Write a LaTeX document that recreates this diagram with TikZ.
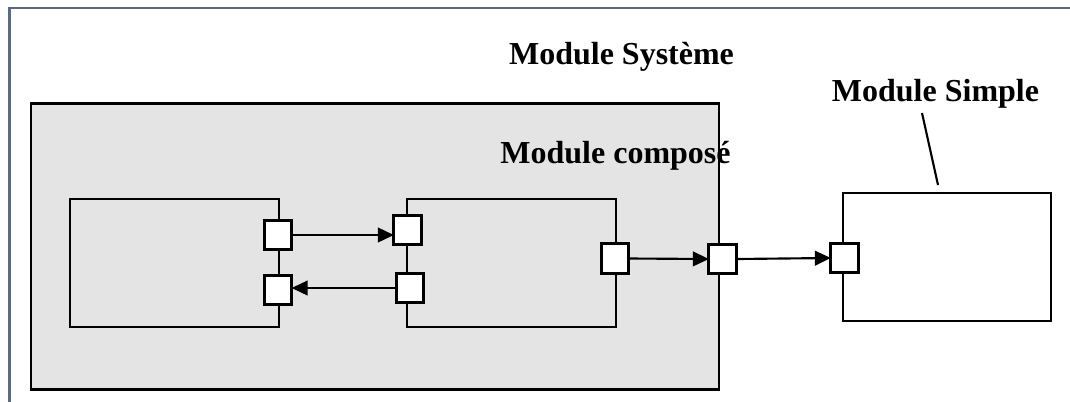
\documentclass[tikz,border=0pt]{standalone}
\usepackage{fontspec}
\setmainfont{Liberation Serif}
\usetikzlibrary{arrows.meta}
\definecolor{framecol}{HTML}{5A6985}
\definecolor{compfill}{HTML}{E4E4E4}
\tikzset{
  px/.style={x=0.75pt,y=-0.75pt},
  frameline/.style={draw=framecol,line width=2.2pt},
  module/.style={draw=black,line width=2.1pt,inner sep=0pt,outer sep=0pt},
  port/.style={draw=black,fill=white,line width=2.1pt,inner sep=0pt,outer sep=0pt,
    minimum width=20.5pt,minimum height=22pt},
  link/.style={line width=1.6pt,-{Triangle[length=12pt,width=11pt]}},
  title/.style={font=\fontsize{24}{28}\selectfont\bfseries,inner sep=0pt,anchor=base},
}
\begin{document}
\begin{tikzpicture}[px]
\useasboundingbox (0,0) rectangle (1070,401);
% page frame
\draw[frameline] (9.5,402) -- (9.5,8) -- (1071,8);

% composite module and its inner modules
\node[module,fill=compfill,minimum width=516pt,minimum height=214pt] (comp) at (375,246.5) {};
\node[module,minimum width=156.75pt,minimum height=96pt] (ma) at (174.5,263) {};
\node[module,minimum width=156.75pt,minimum height=96pt] (mb) at (511.5,263) {};
% simple module
\node[module,fill=white,minimum width=156pt,minimum height=96pt] (ms) at (947,257) {};

% ports
\node[port] (pa1) at (278,235) {};
\node[port] (pa2) at (278,290) {};
\node[port] (pb1) at (407.5,230) {};
\node[port] (pb2) at (410,288) {};
\node[port] (pb3) at (615,258.5) {};
\node[port] (pc)  at (722.5,259) {};
\node[port] (ps)  at (844.5,258) {};

% connections
\draw[link] (pa1.east) -- (pb1.west |- pa1.east);
\draw[link] (pb2.west) -- (pa2.east |- pb2.west);
\draw[link] (pb3.east) -- (pc.west);
\draw[link] (pc.east) -- (ps.west);

% labels
\node[title] (tsys) at (621.5,64) {Module Système};
\node[title] (tcomp) at (615.5,163) {Module composé};
\node[title] (tsimple) at (935.5,101) {Module Simple};
\coordinate (lead1) at (922,113);
\coordinate (lead2) at (938,185);
\draw[line width=1.6pt] (lead1) -- (lead2);
\end{tikzpicture}
\end{document}
